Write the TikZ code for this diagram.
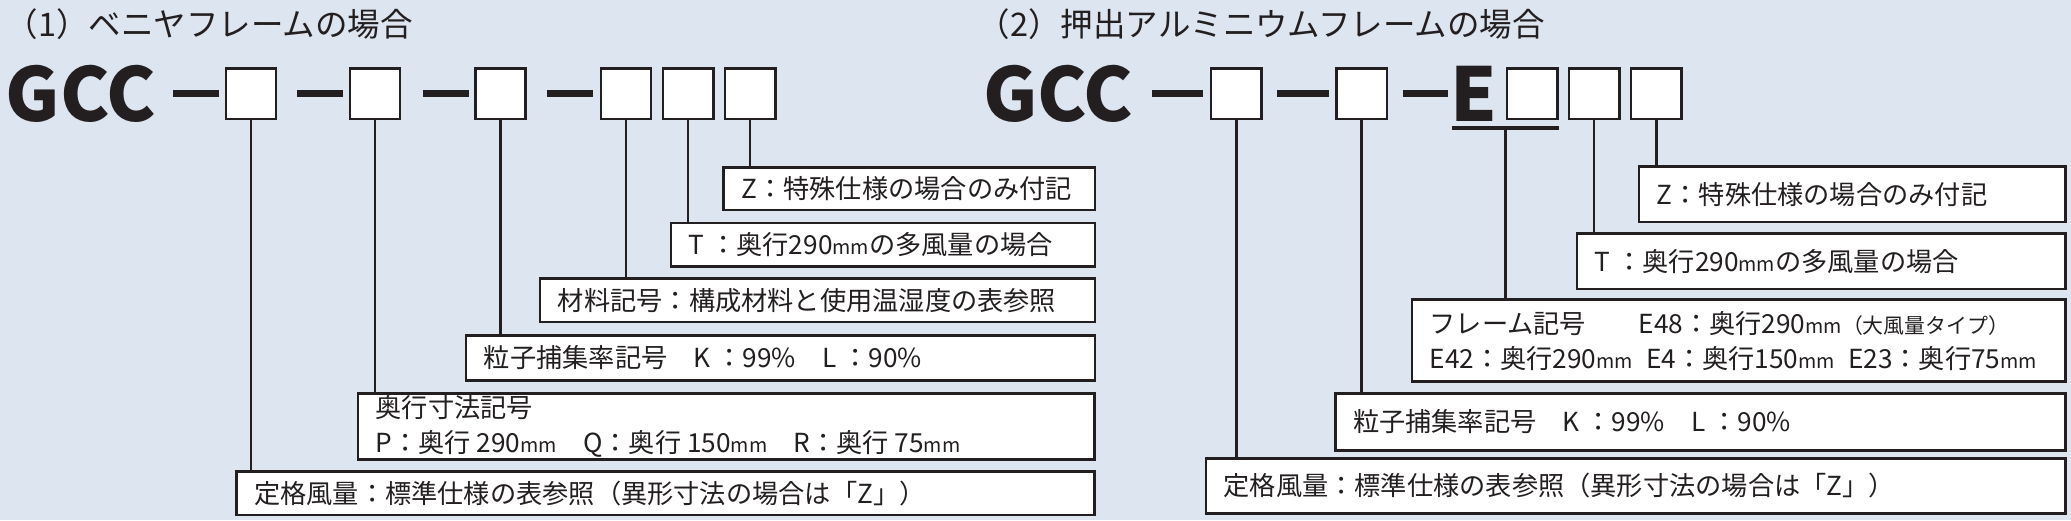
\documentclass[tikz,border=0pt]{standalone}
\usepackage{fontspec}
\setmainfont{Noto Sans CJK JP}
\usetikzlibrary{positioning}
\definecolor{bgblue}{RGB}{221,229,240}
\definecolor{ink}{RGB}{35,31,32}
\tikzset{
  sq/.style={draw=ink, fill=white, line width=1.1pt, minimum size=0.76cm, inner sep=0pt},
  dsh/.style={ink, line width=3.2pt},
  info/.style={draw=ink, fill=white, line width=1.1pt, anchor=north west, inner sep=0pt, font=\fontsize{11}{13}\selectfont, text=ink},
  lbl/.style={anchor=west, inner sep=0pt, font=\fontsize{11.3}{15}\selectfont, text=ink, align=left},
  big/.style={font=\fontsize{32}{32}\bfseries\selectfont, text=ink, inner sep=0pt},
  ttl/.style={anchor=west, inner sep=0pt, font=\fontsize{14}{16}\selectfont, text=ink}
}
\newcommand{\mm}{{\fontsize{8.5}{10}\selectfont mm}}
\begin{document}
\begin{tikzpicture}[x=0.02cm,y=-0.02cm]
\fill[bgblue] (0,0) rectangle (1568,394);
\useasboundingbox (0,0) rectangle (1568,394);
% (1) left panel
\node[ttl] (t1) at (4,18) {（1）ベニヤフレームの場合};
\node[big, anchor=west] (g1) at (4,71) {GCC};
\node[sq] (a1) at (190,71) {};
\node[sq] (a2) at (284,71) {};
\node[sq] (a3) at (379,71) {};
\node[sq] (a4) at (474,71) {};
\node[sq] (a5) at (521,71) {};
\node[sq] (a6) at (568,71) {};
\draw[dsh] (131,71) -- (166,71);
\draw[dsh] (225,71) -- (260,71);
\draw[dsh] (320,71) -- (355,71);
\draw[dsh] (414,71) -- (449,71);
% left boxes
\node[info, minimum width=5.62cm, minimum height=0.64cm] (z1) at (547,126) {};
\node[lbl] at ([xshift=8pt]z1.west) {Z：特殊仕様の場合のみ付記};
\node[info, minimum width=6.42cm, minimum height=0.66cm] (k1) at (507,168) {};
\node[lbl] at ([xshift=8pt]k1.west) {T ：奥行290\mm の多風量の場合};
\node[info, minimum width=8.40cm, minimum height=0.66cm] (m1) at (408,210) {};
\node[lbl] at ([xshift=8pt]m1.west) {材料記号：構成材料と使用温湿度の表参照};
\node[info, minimum width=9.52cm, minimum height=0.68cm] (r1) at (352,253) {};
\node[lbl] at ([xshift=8pt]r1.west) {粒子捕集率記号\quad K ：99\%\quad L ：90\%};
\node[info, minimum width=11.16cm, minimum height=1.0cm] (d1) at (270,297) {};
\node[lbl] at ([xshift=8pt]d1.west) {奥行寸法記号\\P：奥行 290\mm\quad Q：奥行 150\mm\quad R：奥行 75\mm};
\node[info, minimum width=13.0cm, minimum height=0.66cm] (f1) at (178,356) {};
\node[lbl] at ([xshift=8pt]f1.west) {定格風量：標準仕様の表参照（異形寸法の場合は「Z」）};
\draw[ink, line width=1.1pt] (a1.south) -- (a1.south |- f1.north);
\draw[ink, line width=1.1pt] (a2.south) -- (a2.south |- d1.north);
\draw[ink, line width=1.1pt] (a3.south) -- (a3.south |- r1.north);
\draw[ink, line width=1.1pt] (a4.south) -- (a4.south |- m1.north);
\draw[ink, line width=1.1pt] (a5.south) -- (a5.south |- k1.north);
\draw[ink, line width=1.1pt] (a6.south) -- (a6.south |- z1.north);
% (2) right panel
\node[ttl] (t2) at (740,18) {（2）押出アルミニウムフレームの場合};
\node[big, anchor=west] (g2) at (744,71) {GCC};
\node[sq] (b1) at (936,71) {};
\node[sq] (b2) at (1031,71) {};
\node[big] (e2) at (1116,71) {E};
\node[sq] (b3) at (1160,71) {};
\node[sq] (b4) at (1207,71) {};
\node[sq] (b5) at (1254,71) {};
\draw[dsh] (872,71) -- (911,71);
\draw[dsh] (967,71) -- (1006,71);
\draw[dsh] (1062,71) -- (1096,71);
\coordinate (u1) at (1099,97);
\coordinate (u2) at (1180,97);
\draw[ink, line width=1.4pt] (u1) -- (u2);
\coordinate (um) at (1140,97);
% right boxes
\node[info, minimum width=6.46cm, minimum height=0.84cm] (z2) at (1240,125) {};
\node[lbl] at ([xshift=8pt]z2.west) {Z：特殊仕様の場合のみ付記};
\node[info, minimum width=7.40cm, minimum height=0.84cm] (k2) at (1193,176) {};
\node[lbl] at ([xshift=8pt]k2.west) {T ：奥行290\mm の多風量の場合};
\node[info, minimum width=9.90cm, minimum height=1.24cm] (e3) at (1068,226) {};
\node[lbl] at ([xshift=8pt]e3.west) {フレーム記号\qquad E48：奥行290\mm{\small（大風量タイプ）}\\E42：奥行290\mm\enspace E4：奥行150\mm\enspace E23：奥行75\mm};
\node[info, minimum width=11.06cm, minimum height=0.86cm] (r2) at (1010,297) {};
\node[lbl] at ([xshift=8pt]r2.west) {粒子捕集率記号\quad K ：99\%\quad L ：90\%};
\node[info, minimum width=13.02cm, minimum height=0.84cm] (f2) at (912,346) {};
\node[lbl] at ([xshift=8pt]f2.west) {定格風量：標準仕様の表参照（異形寸法の場合は「Z」）};
\draw[ink, line width=1.1pt] (b1.south) -- (b1.south |- f2.north);
\draw[ink, line width=1.1pt] (b2.south) -- (b2.south |- r2.north);
\draw[ink, line width=1.1pt] (um) -- (um |- e3.north);
\draw[ink, line width=1.1pt] (b4.south) -- (b4.south |- k2.north);
\draw[ink, line width=1.1pt] (b5.south) -- (b5.south |- z2.north);
\end{tikzpicture}
\end{document}
